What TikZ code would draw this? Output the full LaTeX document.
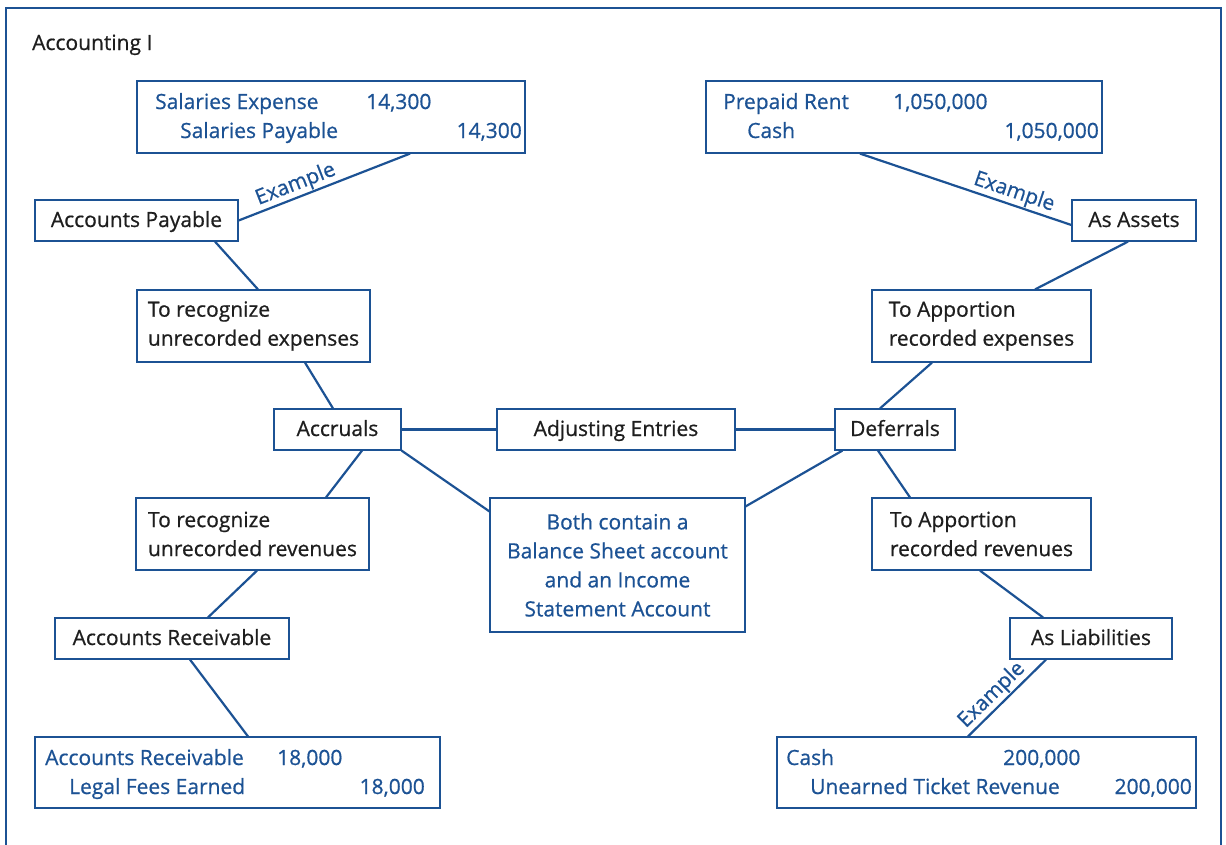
\documentclass[tikz,border=0pt]{standalone}
\usepackage{fontspec}
\setmainfont{Open Sans}[UprightFeatures={FakeBold=0.7}]
\definecolor{acblue}{RGB}{28,82,148}
\definecolor{acink}{RGB}{30,30,30}

\begin{document}
\begin{tikzpicture}[x=1pt,y=-1pt,
    font=\fontsize{21}{29}\selectfont,
    box/.style={draw=acblue, line width=1.2pt, inner sep=0pt, text=acink, align=left},
    sbox/.style={box, text height=15pt, text depth=2pt},
    link/.style={draw=acblue, line width=2.2pt},
    entry/.style={text=acblue, inner sep=0pt, anchor=base west},
    amount/.style={text=acblue, inner sep=0pt, anchor=base east},
    ex/.style={text=acblue, sloped, above, inner sep=1pt}]
    \useasboundingbox (0,0) rectangle (1226,844);

    % Frame and title
    \draw[acblue, line width=2.6pt] (6,8) rectangle (1221,880);
    \node[text=acink, anchor=base west, inner sep=0pt] (title) at (32,50) {Accounting I};

    % Middle row
    \node[sbox, minimum width=127, minimum height=41] (accr) at (337.5,429.5) {Accruals};
    \node[sbox, minimum width=238, minimum height=41] (adj) at (616,429.5) {Adjusting Entries};
    \node[sbox, minimum width=120, minimum height=41] (defer) at (895,429.5) {Deferrals};
    \node[box, text=acblue, align=center, minimum width=255, minimum height=134] (both) at (617.5,565)
      {Both contain a\\Balance Sheet account\\and an Income\\Statement Account};

    % Accruals side
    \node[box, minimum width=233, minimum height=72] (recexp) at (253.5,326) {To recognize\\unrecorded expenses};
    \node[sbox, minimum width=203, minimum height=41] (ap) at (136.5,220.5) {Accounts Payable};
    \node[box, minimum width=233, minimum height=72] (recrev) at (252.5,534) {To recognize\\unrecorded revenues};
    \node[sbox, minimum width=234, minimum height=41] (ar) at (172,638.5) {Accounts Receivable};

    % Deferrals side
    \node[box, minimum width=219, minimum height=72] (appexp) at (981.5,326) {To Apportion\\recorded expenses};
    \node[sbox, minimum width=124, minimum height=41] (assets) at (1134,220.5) {As Assets};
    \node[box, minimum width=219, minimum height=72] (apprev) at (981.5,534) {To Apportion\\recorded revenues};
    \node[sbox, minimum width=162, minimum height=41] (liab) at (1091,638.5) {As Liabilities};

    % Journal entries
    \node[box, minimum width=388, minimum height=72] (sal) at (331,117) {};
    \node[entry] (salDr) at (155,109) {Salaries Expense};
    \node[entry] (salDrAmt) at (366,109) {14,300};
    \node[entry] (salCr) at (180,138) {Salaries Payable};
    \node[amount] (salCrAmt) at (522,138) {14,300};

    \node[box, minimum width=396, minimum height=72] (prep) at (904,117) {};
    \node[entry] (prepDr) at (723,109) {Prepaid Rent};
    \node[entry] (prepDrAmt) at (893,109) {1,050,000};
    \node[entry] (prepCr) at (747,138) {Cash};
    \node[amount] (prepCrAmt) at (1099,138) {1,050,000};

    \node[box, minimum width=405, minimum height=71] (arj) at (237.5,772.5) {};
    \node[entry] (arjDr) at (45,765) {Accounts Receivable};
    \node[entry] (arjDrAmt) at (277,765) {18,000};
    \node[entry] (arjCr) at (69,794) {Legal Fees Earned};
    \node[amount] (arjCrAmt) at (425,794) {18,000};

    \node[box, minimum width=419, minimum height=71] (cashj) at (986.5,772.5) {};
    \node[entry] (cashjDr) at (786,765) {Cash};
    \node[entry] (cashjDrAmt) at (1003,765) {200,000};
    \node[entry] (cashjCr) at (810,794) {Unearned Ticket Revenue};
    \node[amount] (cashjCrAmt) at (1192,794) {200,000};

    % Connectors
    \draw[link] (accr.east) -- (adj.west);
    \draw[link] (adj.east) -- (defer.west);
    \draw[link] (accr.south east) -- ([yshift=-14]both.north west);
    \draw[link] ([xshift=8]defer.south west) -- ([yshift=-9]both.north east);

    \draw[link] ([xshift=51.5]recexp.south) -- ([xshift=-4.5]accr.north);
    \draw[link] ([xshift=78.5]ap.south) -- ([xshift=4.5]recexp.north);
    \draw[link] (ap.east) -- node[ex, pos=0.36] (ex1) {Example} ([xshift=79]sal.south);
    \draw[link] ([xshift=24.5]accr.south) -- ([xshift=73.5]recrev.north);
    \draw[link] ([xshift=4.5]recrev.south) -- ([xshift=36]ar.north);
    \draw[link] ([xshift=18]ar.south) -- ([xshift=10.5]arj.north);

    \draw[link] ([xshift=-49.5]appexp.south) -- ([xshift=-15]defer.north);
    \draw[link] ([xshift=-6]assets.south) -- ([xshift=53.5]appexp.north);
    \draw[link] ([xshift=-44]prep.south) -- node[ex, pos=0.71] (ex2) {Example} ([yshift=-4.5]assets.west);
    \draw[link] ([xshift=-17]defer.south) -- ([xshift=-71.5]apprev.north);
    \draw[link] ([xshift=-1.5]apprev.south) -- ([xshift=-48]liab.north);
    \draw[link] ([xshift=-18.5]cashj.north) -- node[ex, pos=0.42] (ex3) {Example} ([xshift=-45]liab.south);
\end{tikzpicture}
\end{document}
